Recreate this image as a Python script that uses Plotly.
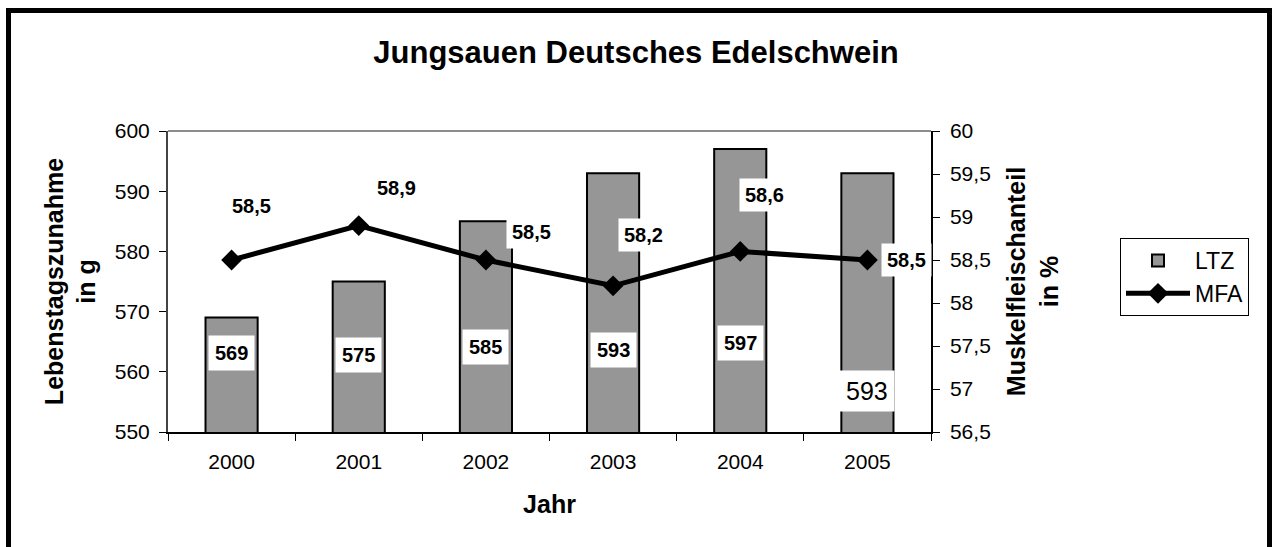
import plotly.graph_objects as go

# ---- data ----
years = ["2000", "2001", "2002", "2003", "2004", "2005"]
ltz = [569, 575, 585, 593, 597, 593]          # Lebenstagszunahme in g
mfa = [58.5, 58.9, 58.5, 58.2, 58.6, 58.5]    # Muskelfleischanteil in %

ltz_text = ["569", "575", "585", "593", "597", "593"]
mfa_text = ["58,5", "58,9", "58,5", "58,2", "58,6", "58,5"]

# label placement (left-axis units for LTZ, pixel shifts for MFA)
ltz_label_y = [563.1, 562.8, 564.1, 563.6, 564.8, 556.8]
ltz_label_bold = [True, True, True, True, True, False]
mfa_dx = [20, 38, 46, 30, 24, 39]
mfa_dy = [54, 38, 28, 51, 56, 0]

LTZ_RANGE = [550, 600]
MFA_RANGE = [56.5, 60]

# ---- layout geometry (pixels) ----
W, H = 1272, 547
L, R, T, B = 168, 931, 131, 432
PW, PH = R - L, B - T

def px(x):
    return (x - L) / PW

def py(y):
    return (B - y) / PH

FONT = "Arial, Liberation Sans, sans-serif"

fig = go.Figure()
fig.add_trace(go.Bar(
    x=years, y=ltz, name="LTZ", yaxis="y",
    marker=dict(color="#969696", line=dict(color="black", width=2)),
))
fig.add_trace(go.Scatter(
    x=years, y=mfa, name="MFA", yaxis="y2", mode="lines+markers",
    line=dict(color="black", width=5),
    marker=dict(symbol="diamond", size=16, color="black"),
))

annotations = []
for i, (v, t, b) in enumerate(zip(ltz_label_y, ltz_text, ltz_label_bold)):
    annotations.append(dict(
        x=i, y=v, xref="x", yref="y", showarrow=False,
        text=f"<b>{t}</b>" if b else t,
        font=dict(family=FONT, size=20 if b else 25, color="black"),
        bgcolor="white", borderpad=6,
    ))
for i, (v, t, dx, dy) in enumerate(zip(mfa, mfa_text, mfa_dx, mfa_dy)):
    annotations.append(dict(
        x=i, y=v, xref="x", yref="y2", showarrow=False,
        text=f"<b>{t}</b>", xshift=dx, yshift=dy,
        font=dict(family=FONT, size=20, color="black"),
        bgcolor="white", borderpad=5,
    ))

shapes = [
    # grey top border of plot area
    dict(type="line", xref="paper", yref="paper", x0=0, x1=1, y0=1, y1=1,
         line=dict(color="#8c8c8c", width=2)),
    # outer chart frame
    dict(type="rect", xref="paper", yref="paper",
         x0=px(8.5), x1=px(1269.5), y0=py(560), y1=py(10.5),
         line=dict(color="black", width=5)),
]

n = len(years)
inside_ticks = dict(ticks="inside", ticklen=7, tickcolor="black",
                    showticklabels=False, showline=False, showgrid=False,
                    zeroline=False)

fig.update_layout(
    width=W, height=H,
    margin=dict(l=L, r=W - R, t=T, b=H - B, autoexpand=False),
    paper_bgcolor="white", plot_bgcolor="white",
    separators=",.",
    font=dict(family=FONT, size=20, color="black"),
    title=dict(text="<b>Jungsauen Deutsches Edelschwein</b>",
               x=0.5, xanchor="center", y=1 - 52 / H, yanchor="middle",
               font=dict(family=FONT, size=31, color="black")),
    bargap=0.59,
    showlegend=True,
    legend=dict(x=px(1120), y=py(238), xanchor="left", yanchor="top",
                bordercolor="black", borderwidth=1, bgcolor="white",
                font=dict(family=FONT, size=23, color="black"),
                itemwidth=64, tracegroupgap=6),
    xaxis=dict(type="category", range=[-0.5, n - 0.5],
               tickson="boundaries", ticks="outside", tickangle=0,
               ticklen=7, tickcolor="black", showline=True,
               linecolor="black", linewidth=1.5, showgrid=False,
               tickfont=dict(size=21), ticklabelstandoff=10,
               title=dict(text="<b>Jahr</b>", font=dict(size=25), standoff=24)),
    yaxis=dict(range=LTZ_RANGE, dtick=10, ticks="outside", ticklen=7,
               tickcolor="black", showline=True, linecolor="#444444",
               linewidth=2, showgrid=False, zeroline=False,
               tickfont=dict(size=21), ticklabelstandoff=5,
               title=dict(text="<b>Lebenstagszunahme<br>in g</b>",
                          font=dict(size=25), standoff=12)),
    yaxis2=dict(range=MFA_RANGE, dtick=0.5, overlaying="y", side="right",
                ticks="outside", ticklen=7, tickcolor="black", showline=True,
                linecolor="black", linewidth=1.5, showgrid=False,
                zeroline=False, tickfont=dict(size=21), ticklabelstandoff=6,
                title=dict(text="<b>Muskelfleischanteil<br>in %</b>",
                           font=dict(size=25), standoff=18)),
    # companion axes that draw the inner half of the crossing tick marks
    xaxis2=dict(overlaying="x", anchor="y", side="bottom", type="linear",
                range=[-0.5, n - 0.5], tick0=-0.5, dtick=1, **inside_ticks),
    yaxis3=dict(overlaying="y", anchor="x", side="left",
                range=LTZ_RANGE, dtick=10, **inside_ticks),
    yaxis4=dict(overlaying="y", anchor="x", side="right",
                range=MFA_RANGE, dtick=0.5, **inside_ticks),
    annotations=annotations,
    shapes=shapes,
)

fig.write_html("out.html", config={"displayModeBar": False},
               post_script="document.body.style.margin='0';")
